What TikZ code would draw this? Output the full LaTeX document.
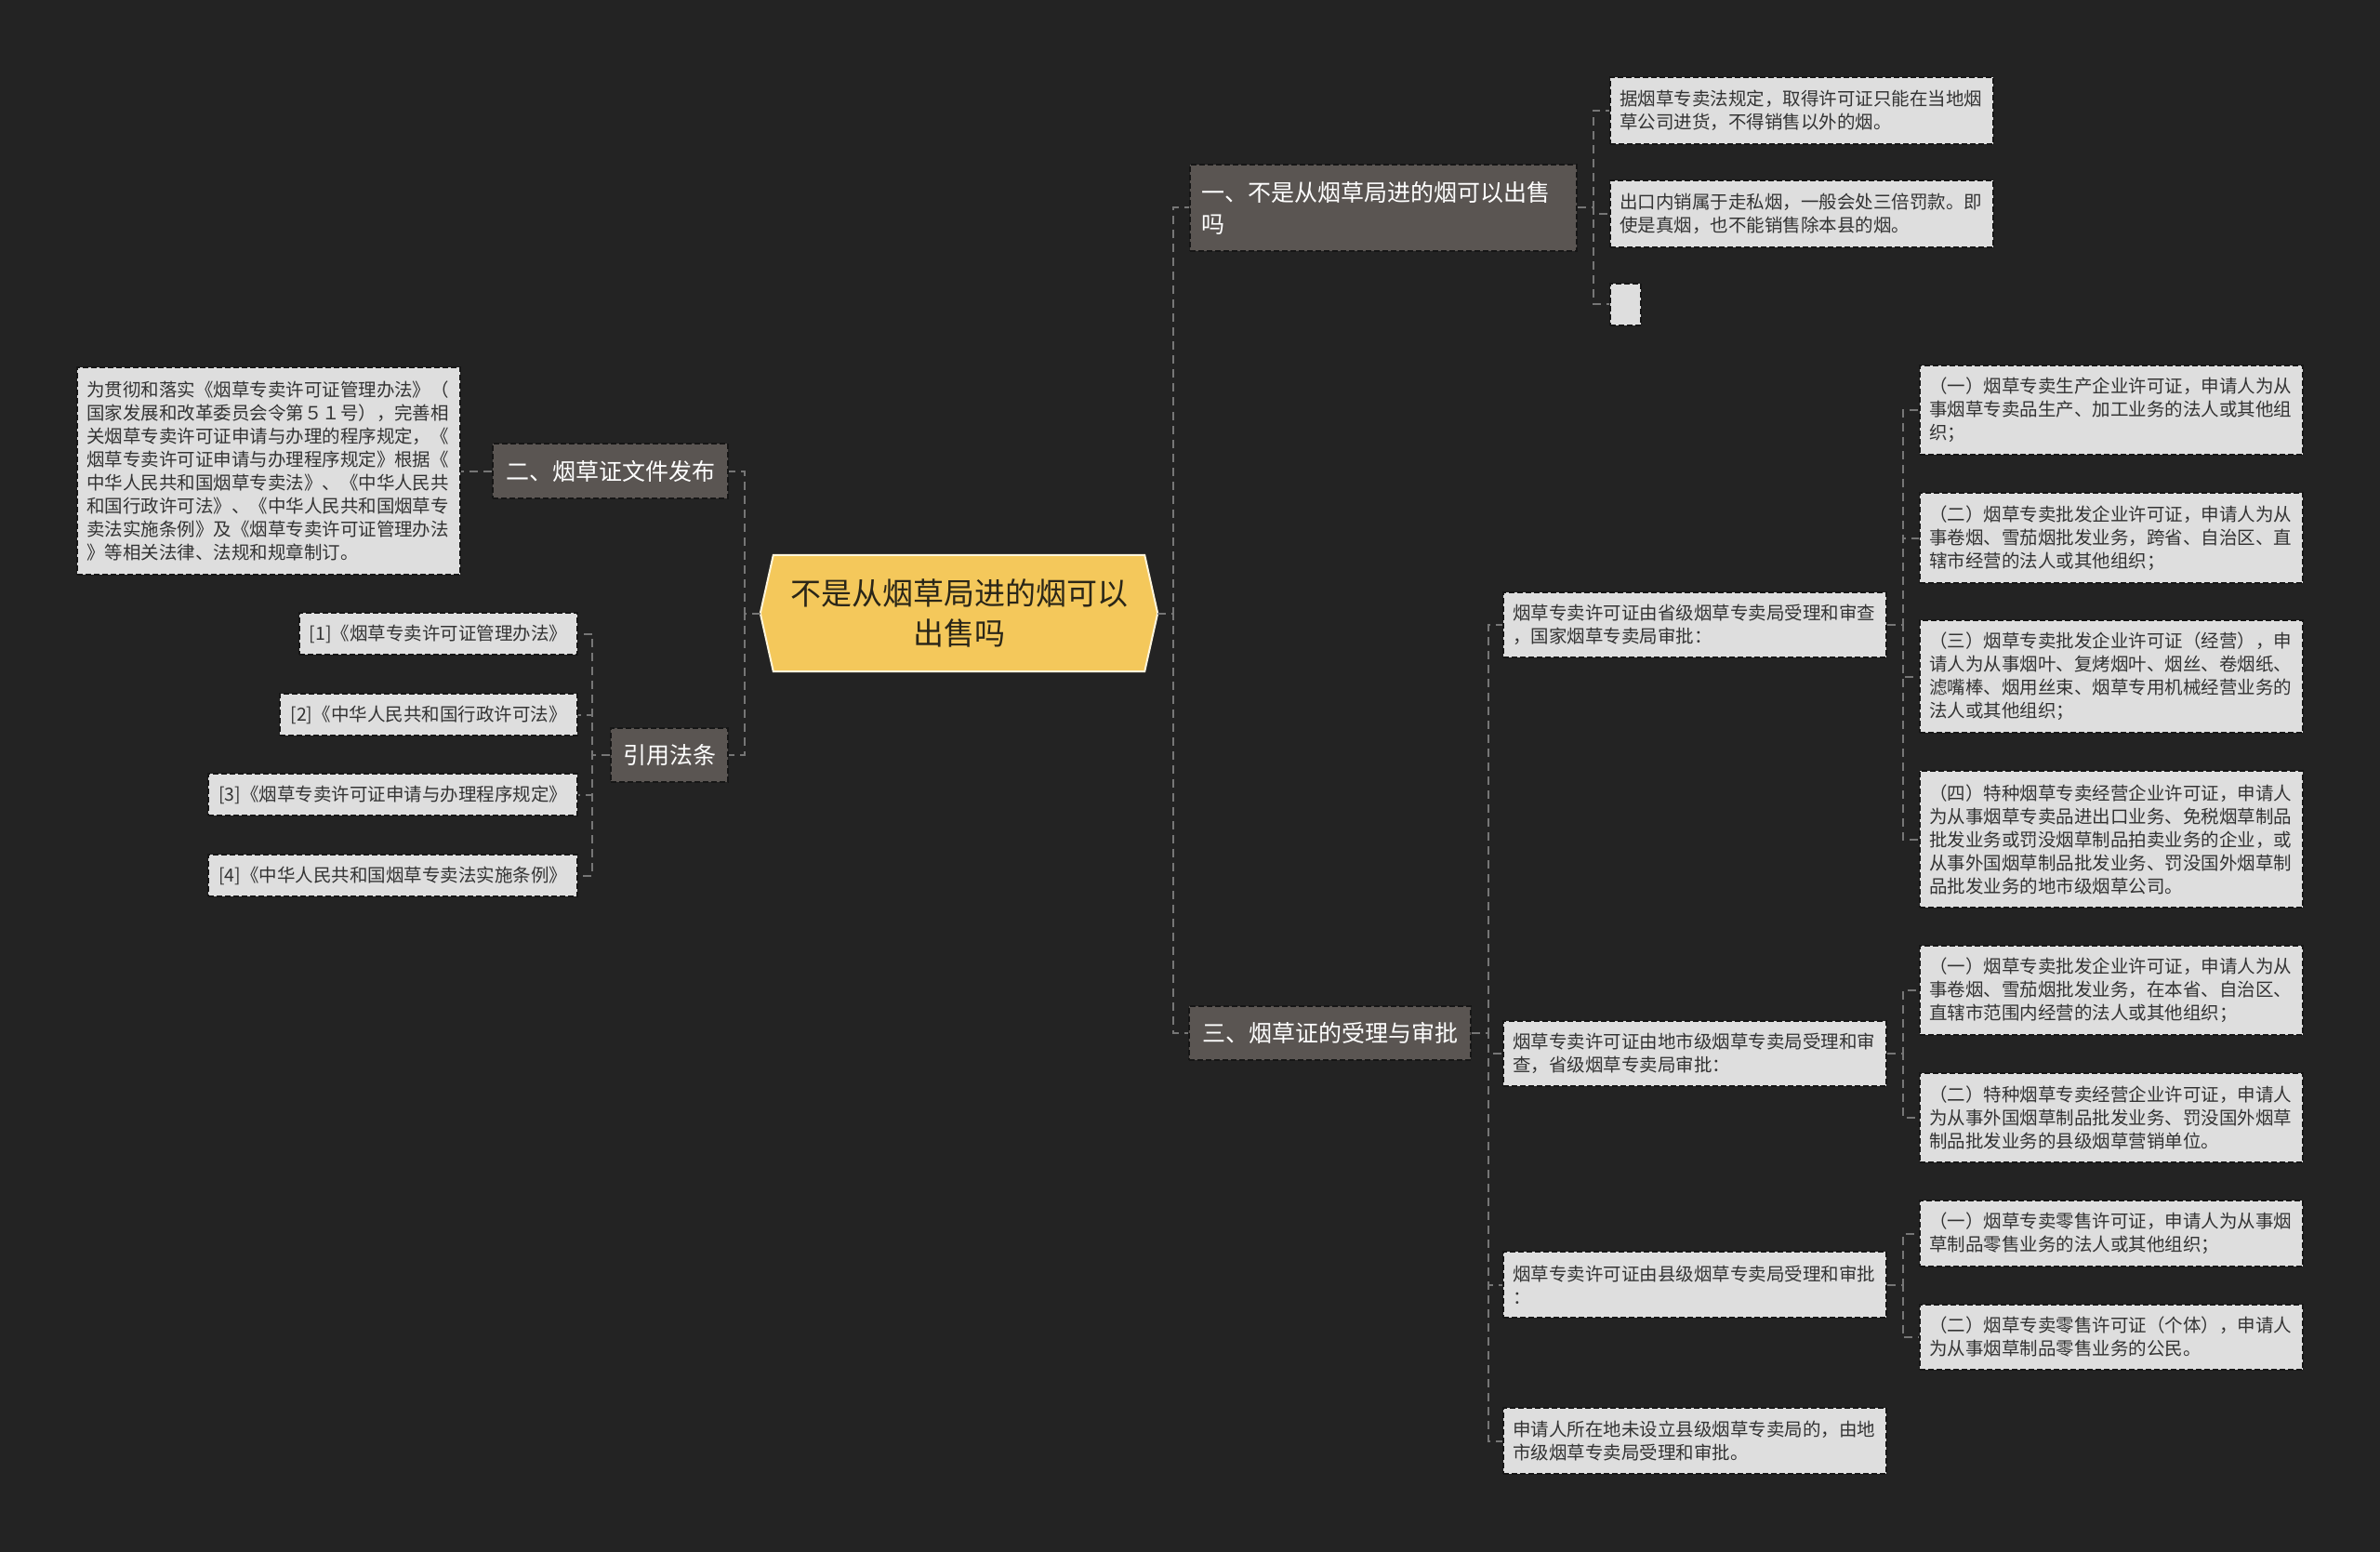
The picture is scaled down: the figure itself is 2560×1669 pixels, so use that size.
\documentclass[tikz,border=0pt]{standalone}
\usepackage{fontspec}
\setmainfont{Noto Sans CJK SC}
\usetikzlibrary{calc}
\pgfdeclarelayer{background}
\pgfsetlayers{background,main}
\definecolor{bgc}{HTML}{232323}
\definecolor{lonefill}{HTML}{5A5552}
\definecolor{leaffill}{HTML}{DEDEDE}
\definecolor{leaftext}{HTML}{333333}
\definecolor{edgeline}{HTML}{161616}
\definecolor{conncol}{HTML}{767676}
\definecolor{rootfill}{HTML}{F4C85B}
\definecolor{rootline}{HTML}{FFF6DC}
\definecolor{roottext}{HTML}{2A2618}
\tikzset{
  leaf/.style={draw=edgeline, fill=leaffill, dash pattern=on 6pt off 3pt, line width=1.6pt,
    text=leaftext, font=\fontsize{19.5}{25}\selectfont, inner xsep=10pt, inner ysep=0pt,
    align=left, anchor=center},
  wideleaf/.style={leaf, minimum width=412pt, text width=392pt, minimum height=#1},
  refleaf/.style={leaf, minimum height=45pt, minimum width=#1},
  lone/.style={draw=edgeline, fill=lonefill, dash pattern=on 6pt off 3pt, line width=1.6pt,
    text=white, font=\fontsize{25}{34}\selectfont, inner sep=0pt, anchor=center},
  rootnode/.style={inner sep=0pt, minimum width=427pt, minimum height=125pt,
    text=roottext, font=\fontsize{33}{43}\selectfont, align=center, anchor=center},
  conn/.style={draw=conncol, line width=2pt, dash pattern=on 9pt off 6pt},
}
\begin{document}
\begin{tikzpicture}[x=1pt, y=-1pt]
\useasboundingbox (0,0) rectangle (2560,1669);

% root
\node[rootnode] (root) at (1031.5,659.5) {不是从烟草局进的烟可以\\出售吗};

% level one
\node[lone, minimum width=416pt, minimum height=93pt, text width=392pt, align=left] (A) at (1488,223.5)
  {一、不是从烟草局进的烟可以出售\\吗};
\node[lone, minimum width=253pt, minimum height=59pt] (B) at (656.5,506.5) {二、烟草证文件发布};
\node[lone, minimum width=303pt, minimum height=58pt] (C) at (1430.5,1111) {三、烟草证的受理与审批};
\node[lone, minimum width=126pt, minimum height=58pt] (D) at (720,812) {引用法条};

% A leaves
\node[wideleaf=72pt] (A1) at (1938,119) {据烟草专卖法规定，取得许可证只能在当地烟\\草公司进货，不得销售以外的烟。};
\node[wideleaf=72pt] (A2) at (1938,230) {出口内销属于走私烟，一般会处三倍罚款。即\\使是真烟，也不能销售除本县的烟。};
\node[leaf, minimum width=33pt, minimum height=45pt] (A3) at (1748.5,327.5) {};

% B leaf
\node[wideleaf=223pt] (B1) at (289,506.5) {为贯彻和落实《烟草专卖许可证管理办法》（\\国家发展和改革委员会令第５１号），完善相\\关烟草专卖许可证申请与办理的程序规定，《\\烟草专卖许可证申请与办理程序规定》根据《\\中华人民共和国烟草专卖法》、《中华人民共\\和国行政许可法》、《中华人民共和国烟草专\\卖法实施条例》及《烟草专卖许可证管理办法\\》等相关法律、法规和规章制订。};

% D leaves
\node[refleaf=299pt] (D1) at (471.5,681.5) {[1]《烟草专卖许可证管理办法》};
\node[refleaf=320pt] (D2) at (461,768.5) {[2]《中华人民共和国行政许可法》};
\node[refleaf=397pt] (D3) at (422.5,854.5) {[3]《烟草专卖许可证申请与办理程序规定》};
\node[refleaf=397pt] (D4) at (422.5,941.5) {[4]《中华人民共和国烟草专卖法实施条例》};

% C second level
\node[wideleaf=70pt] (C1) at (1823,672) {烟草专卖许可证由省级烟草专卖局受理和审查\\，国家烟草专卖局审批：};
\node[wideleaf=70pt] (C2) at (1823,1133) {烟草专卖许可证由地市级烟草专卖局受理和审\\查，省级烟草专卖局审批：};
\node[wideleaf=71pt] (C3) at (1823,1381.5) {烟草专卖许可证由县级烟草专卖局受理和审批\\：};
\node[wideleaf=71pt] (C4) at (1823,1549.5) {申请人所在地未设立县级烟草专卖局的，由地\\市级烟草专卖局受理和审批。};

% C third level
\node[wideleaf=96pt] (C1a) at (2271,441) {（一）烟草专卖生产企业许可证，申请人为从\\事烟草专卖品生产、加工业务的法人或其他组\\织；};
\node[wideleaf=97pt] (C1b) at (2271,578.5) {（二）烟草专卖批发企业许可证，申请人为从\\事卷烟、雪茄烟批发业务，跨省、自治区、直\\辖市经营的法人或其他组织；};
\node[wideleaf=121pt] (C1c) at (2271,727.5) {（三）烟草专卖批发企业许可证（经营），申\\请人为从事烟叶、复烤烟叶、烟丝、卷烟纸、\\滤嘴棒、烟用丝束、烟草专用机械经营业务的\\法人或其他组织；};
\node[wideleaf=147pt] (C1d) at (2271,902.5) {（四）特种烟草专卖经营企业许可证，申请人\\为从事烟草专卖品进出口业务、免税烟草制品\\批发业务或罚没烟草制品拍卖业务的企业，或\\从事外国烟草制品批发业务、罚没国外烟草制\\品批发业务的地市级烟草公司。};
\node[wideleaf=96pt] (C2a) at (2271,1065) {（一）烟草专卖批发企业许可证，申请人为从\\事卷烟、雪茄烟批发业务，在本省、自治区、\\直辖市范围内经营的法人或其他组织；};
\node[wideleaf=96pt] (C2b) at (2271,1202) {（二）特种烟草专卖经营企业许可证，申请人\\为从事外国烟草制品批发业务、罚没国外烟草\\制品批发业务的县级烟草营销单位。};
\node[wideleaf=71pt] (C3a) at (2271,1326.5) {（一）烟草专卖零售许可证，申请人为从事烟\\草制品零售业务的法人或其他组织；};
\node[wideleaf=70pt] (C3b) at (2271,1438) {（二）烟草专卖零售许可证（个体），申请人\\为从事烟草制品零售业务的公民。};

% background and root shape
\begin{pgfonlayer}{background}
  \fill[bgc] (0,0) rectangle (2560,1669);
  \draw[fill=rootfill, draw=rootline, line width=2pt, line join=miter]
    ([xshift=14pt]root.north west) -- ([xshift=-14pt]root.north east) -- (root.east)
    -- ([xshift=-14pt]root.south east) -- ([xshift=14pt]root.south west) -- (root.west) -- cycle;
\end{pgfonlayer}

% connectors
\draw[conn] (root.east) -- ++(17,0) |- (A.west);
\draw[conn] (root.east) -- ++(17,0) |- (C.west);
\draw[conn] (root.west) -- ++(-17,0) |- (B.east);
\draw[conn] (root.west) -- ++(-17,0) |- (D.east);

\draw[conn] (A.east) -- ++(17,0) |- (A1.west);
\draw[conn] (A.east) -- ++(17,0) |- (A2.west);
\draw[conn] (A.east) -- ++(17,0) |- (A3.west);

\draw[conn] (B.west) -- (B1.east);

\draw[conn] (D.west) -- ++(-19,0) |- (D1.east);
\draw[conn] (D.west) -- ++(-19,0) |- (D2.east);
\draw[conn] (D.west) -- ++(-19,0) |- (D3.east);
\draw[conn] (D.west) -- ++(-19,0) |- (D4.east);

\draw[conn] (C.east) -- ++(18,0) |- (C1.west);
\draw[conn] (C.east) -- ++(18,0) |- (C2.west);
\draw[conn] (C.east) -- ++(18,0) |- (C3.west);
\draw[conn] (C.east) -- ++(18,0) |- (C4.west);

\draw[conn] (C1.east) -- ++(17,0) |- (C1a.west);
\draw[conn] (C1.east) -- ++(17,0) |- (C1b.west);
\draw[conn] (C1.east) -- ++(17,0) |- (C1c.west);
\draw[conn] (C1.east) -- ++(17,0) |- (C1d.west);

\draw[conn] (C2.east) -- ++(17,0) |- (C2a.west);
\draw[conn] (C2.east) -- ++(17,0) |- (C2b.west);

\draw[conn] (C3.east) -- ++(17,0) |- (C3a.west);
\draw[conn] (C3.east) -- ++(17,0) |- (C3b.west);
\end{tikzpicture}
\end{document}
